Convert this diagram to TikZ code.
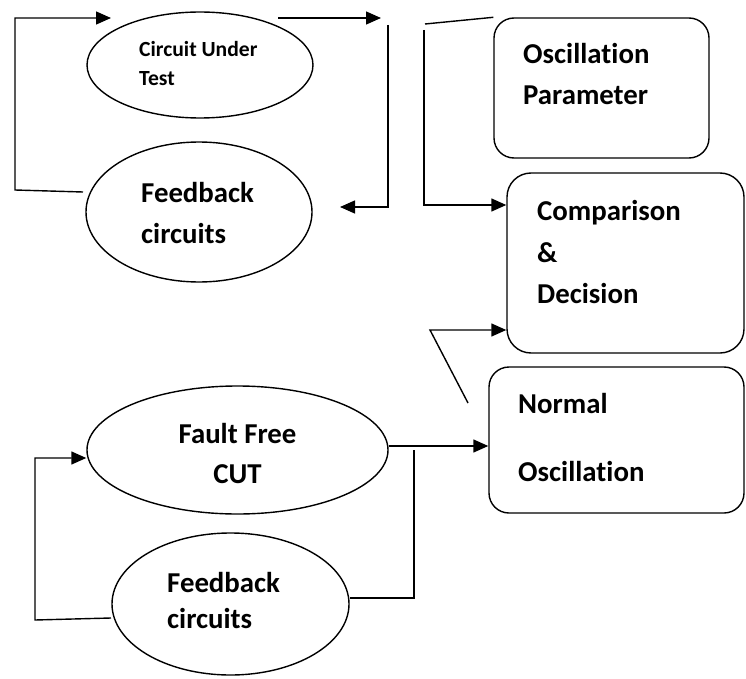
\documentclass[tikz,border=0pt]{standalone}
\usepackage{fontspec}
\setmainfont{Carlito}[Ligatures=NoCommon]
\usetikzlibrary{shapes.geometric,arrows.meta}
\tikzset{
  ell/.style={draw, ellipse, line width=1.4pt, inner sep=0pt},
  rbox/.style={draw, rectangle, rounded corners=20pt, line width=1.4pt, inner sep=0pt},
  conn/.style={line width=1.4pt},
  arr/.style={line width=1.4pt, -{Triangle[length=15pt,width=13pt]}},
  big/.style={anchor=base west, inner sep=0pt, font=\fontsize{28.8}{34}\selectfont\bfseries},
  small/.style={anchor=base west, inner sep=0pt, font=\fontsize{21.6}{26}\selectfont\bfseries},
}
\begin{document}
\begin{tikzpicture}[x=1pt, y=-1pt]
\useasboundingbox (0,0) rectangle (746,679);
% shapes
\node[ell, minimum width=226pt, minimum height=106pt] (cut) at (200,65) {};
\node[ell, minimum width=226pt, minimum height=140pt] (fb1) at (199,212) {};
\node[ell, minimum width=301pt, minimum height=128pt] (ff) at (237.5,450) {};
\node[ell, minimum width=237pt, minimum height=142pt] (fb2) at (230.5,604) {};
\node[rbox, minimum width=215pt, minimum height=140pt] (op) at (601.5,88) {};
\node[rbox, rounded corners=24pt, minimum width=237pt, minimum height=180pt] (cd) at (625.5,263) {};
\node[rbox, minimum width=255pt, minimum height=146pt] (no) at (616.5,440) {};
% texts
\node[small] (t1) at (139,57) {Circuit Under};
\node[small] (t2) at (139,86) {Test};
\node[big] (t3) at (141,202) {Feedback};
\node[big] (t4) at (141,243) {circuits};
\node[big] (t5) at (523,64) {Oscillation};
\node[big] (t6) at (523,105) {Parameter};
\node[big] (t7) at (537,220) {Comparison};
\node[big] (t8) at (537,262) {\&};
\node[big] (t9) at (537,303) {Decision};
\node[big] (t10) at (518,413) {Normal};
\node[big] (t11) at (518,481) {Oscillation};
\node[big, anchor=base] (t12) at (237.5,443) {Fault Free};
\node[big, anchor=base] (t13) at (237.5,483) {CUT};
\node[big] (t14) at (167,592) {Feedback};
\node[big] (t15) at (167,628) {circuits};
% free ends
\coordinate (a1) at (83,192);
\coordinate (a2) at (15,190);
\coordinate (a3) at (15,18);
\coordinate (a4) at (111,18);
\coordinate (b1) at (278,18);
\coordinate (b2) at (381,18);
\coordinate (c1) at (388,25);
\coordinate (c2) at (388,207);
\coordinate (c3) at (340,207);
\coordinate (d1) at (425,24);
\coordinate (e1) at (424,30);
\coordinate (e2) at (424,205);
\coordinate (f1) at (468,403);
\coordinate (f2) at (430,330);
\coordinate (g1) at (111,618);
\coordinate (g2) at (35,620);
\coordinate (g3) at (35,458);
\coordinate (h1) at (414,598);
\coordinate (h2) at (414,450);
% connectors
\draw[arr] (a1) -- (a2) -- (a3) -- (a4);
\draw[arr] (b1) -- (b2);
\draw[arr] (c1) -- (c2) -- (c3);
\draw[conn] (d1) -- (op.north west);
\draw[arr] (e1) -- (e2) -- (e2 -| cd.west);
\draw[arr] (f1) -- (f2) -- (f2 -| cd.west);
\draw[arr] (g1) -- (g2) -- (g3) -- (g3 -| ff.west);
\draw[arr] (ff.east |- 0,446) -- (no.west |- 0,446);
\draw[conn] (fb2.east |- 0,598) -- (h1) -- (h2);
\end{tikzpicture}
\end{document}
